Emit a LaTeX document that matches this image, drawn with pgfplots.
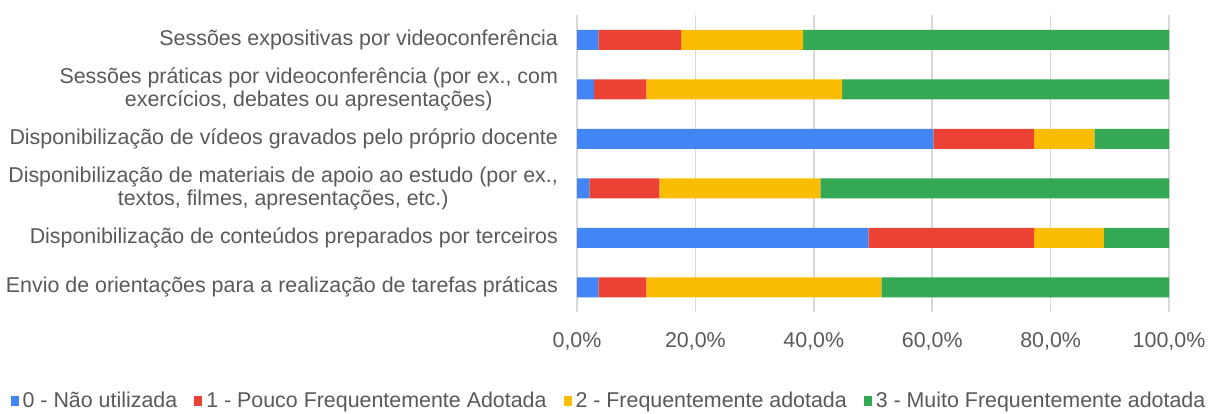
\documentclass[border=0pt]{standalone}
\usepackage{fontspec}
\setmainfont{Liberation Sans}
\usepackage{pgfplots}
\pgfplotsset{compat=1.18}
\definecolor{gblue}{HTML}{4285F4}
\definecolor{gred}{HTML}{EA4335}
\definecolor{gyellow}{HTML}{FBBC04}
\definecolor{ggreen}{HTML}{34A853}
\definecolor{txt}{HTML}{595959}
\definecolor{gridc}{HTML}{D9D9D9}
\begin{document}
\begin{tikzpicture}
\path[use as bounding box] (0,0) rectangle (610pt,206.5pt);
\begin{axis}[
  at={(288.5pt,50.5pt)}, anchor=south west,
  scale only axis,
  width=296pt, height=148.5pt,
  xbar stacked,
  bar width=10pt,
  xmin=0, xmax=100,
  ymin=-0.5, ymax=5.5,
  y dir=reverse,
  axis line style={draw=none},
  major tick length=0pt,
  xmajorgrids,
  grid style={gridc, line width=0.75pt},
  xtick={0,20,40,60,80,100},
  xticklabels={{0,0\%},{20,0\%},{40,0\%},{60,0\%},{80,0\%},{100,0\%}},
  ytick={0,1,2,3,4,5},
  yticklabels={
    {Sessões expositivas por videoconferência},
    {Sessões práticas por videoconferência (por ex., com\\exercícios, debates ou apresentações)},
    {Disponibilização de vídeos gravados pelo próprio docente},
    {Disponibilização de materiais de apoio ao estudo (por ex.,\\textos, filmes, apresentações, etc.)},
    {Disponibilização de conteúdos preparados por terceiros},
    {Envio de orientações para a realização de tarefas práticas}},
  tick label style={font=\fontsize{10.7}{11.5}\selectfont, text=txt},
  yticklabel style={align=center, xshift=-6pt},
  xticklabel style={yshift=-6.5pt},
  legend style={at={(0.0557,-0.2997)}, anchor=center, draw=none,
    font=\fontsize{10.7}{11.5}\selectfont, text=txt,
    legend columns=4,
    /tikz/every even column/.append style={column sep=6.5pt}},
  legend image code/.code={\fill[#1] (0pt,-2.5pt) rectangle (4pt,2.5pt);},
  legend cell align=left,
]
\addplot[fill=gblue, draw=none] coordinates {(3.6,0) (2.9,1) (60.2,2) (2.1,3) (49.2,4) (3.6,5)};
\addplot[fill=gred, draw=none] coordinates {(14.0,0) (8.8,1) (17.0,2) (11.8,3) (28.0,4) (8.1,5)};
\addplot[fill=gyellow, draw=none] coordinates {(20.6,0) (33.1,1) (10.2,2) (27.2,3) (11.8,4) (39.7,5)};
\addplot[fill=ggreen, draw=none] coordinates {(61.8,0) (55.2,1) (12.6,2) (58.9,3) (11.0,4) (48.6,5)};
\legend{0 - Não utilizada, 1 - Pouco Frequentemente Adotada, 2 - Frequentemente adotada, 3 - Muito Frequentemente adotada}
\end{axis}
\end{tikzpicture}
\end{document}
